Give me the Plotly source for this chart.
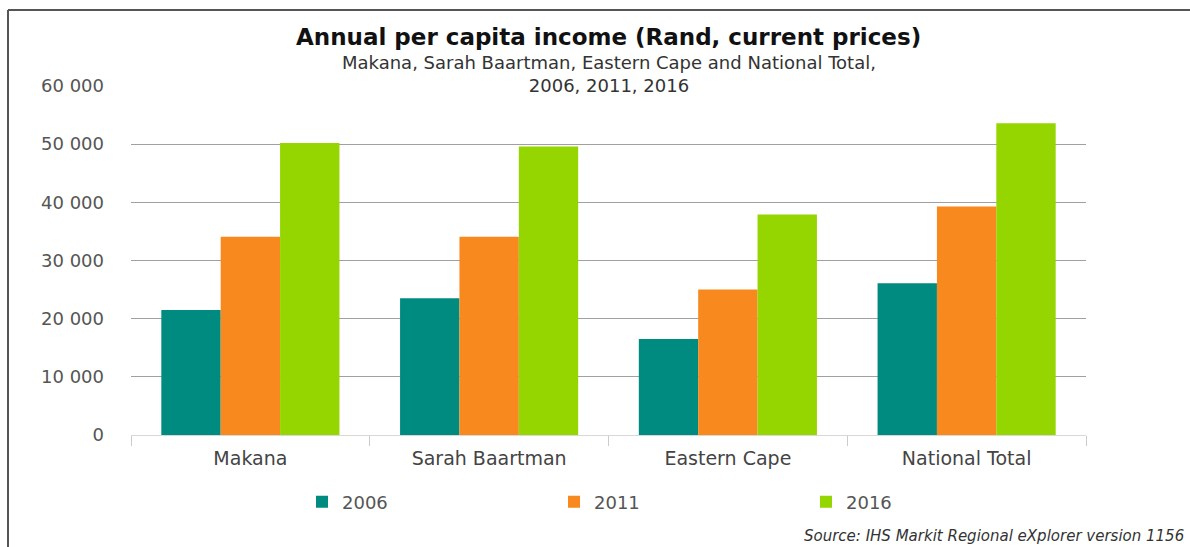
import plotly.graph_objects as go

# Data: annual per capita income (Rand, current prices)
regions = ["Makana", "Sarah Baartman", "Eastern Cape", "National Total"]
years = ["2006", "2011", "2016"]
income_2006 = [21500, 23500, 16500, 26100]
income_2011 = [34100, 34100, 25000, 39300]
income_2016 = [50200, 49600, 37900, 53600]
y_ticks = [0, 10000, 20000, 30000, 40000, 50000, 60000]

series = [income_2006, income_2011, income_2016]
colors = ["#008B80", "#F7891F", "#96D600"]

W, H = 1190, 547
L, R, T, B = 131, 104, 86, 112
pw, ph = W - L - R, H - T - B


def px_x(x):
    return (x - L) / pw


def px_y(y):
    return (H - B - y) / ph


FONT = "DejaVu Sans"

fig = go.Figure()
for name, vals, col in zip(years, series, colors):
    fig.add_trace(go.Bar(x=regions, y=vals, name=name, marker=dict(color=col, line=dict(width=0))))

fig.update_layout(
    width=W,
    height=H,
    margin=dict(l=L, r=R, t=T, b=B, autoexpand=False),
    paper_bgcolor="white",
    plot_bgcolor="white",
    barmode="group",
    bargap=0.254,
    bargroupgap=0,
    separators=". ",
    font=dict(family=FONT, color="#555555"),
    showlegend=True,
    legend=dict(
        orientation="h",
        x=px_x(302),
        xanchor="left",
        y=px_y(502),
        yanchor="middle",
        entrywidth=207,
        font=dict(family=FONT, size=18, color="#555555"),
        itemwidth=30,
        bgcolor="rgba(0,0,0,0)",
    ),
    xaxis=dict(
        showgrid=False,
        showline=True,
        linecolor="#d8d8d8",
        linewidth=1,
        ticks="outside",
        tickson="boundaries",
        ticklen=10,
        tickcolor="#cccccc",
        tickfont=dict(family=FONT, size=19, color="#444444"),
        ticklabelstandoff=6,
    ),
    yaxis=dict(
        range=[0, 60000],
        tickvals=y_ticks,
        tickformat=",d",
        showgrid=True,
        gridcolor="#a0a0a0",
        gridwidth=1,
        zeroline=False,
        showline=False,
        ticks="",
        ticklabelstandoff=26,
        tickfont=dict(family=FONT, size=18, color="#555555"),
    ),
    annotations=[
        dict(
            text="<b>Annual per capita income (Rand, current prices)</b>",
            xref="paper", yref="paper", x=0.5, y=px_y(37),
            xanchor="center", yanchor="middle", showarrow=False,
            font=dict(family=FONT, size=23, color="#111111"),
        ),
        dict(
            text="Makana, Sarah Baartman, Eastern Cape and National Total,<br>2006, 2011, 2016",
            xref="paper", yref="paper", x=0.5, y=px_y(74),
            xanchor="center", yanchor="middle", showarrow=False,
            font=dict(family=FONT, size=18, color="#333333"),
        ),
        dict(
            text="<i>Source: IHS Markit Regional eXplorer version 1156</i>",
            xref="paper", yref="paper", x=px_x(1186), y=px_y(536),
            xanchor="right", yanchor="middle", showarrow=False,
            font=dict(family=FONT, size=15, color="#333333"),
        ),
    ],
    shapes=[
        dict(type="line", xref="paper", yref="paper",
             x0=px_x(8), x1=px_x(1200), y0=px_y(10), y1=px_y(10),
             line=dict(color="#555555", width=2)),
        dict(type="line", xref="paper", yref="paper",
             x0=px_x(8), x1=px_x(8), y0=px_y(10), y1=px_y(560),
             line=dict(color="#555555", width=2)),
    ],
)

fig.write_html("out.html")
